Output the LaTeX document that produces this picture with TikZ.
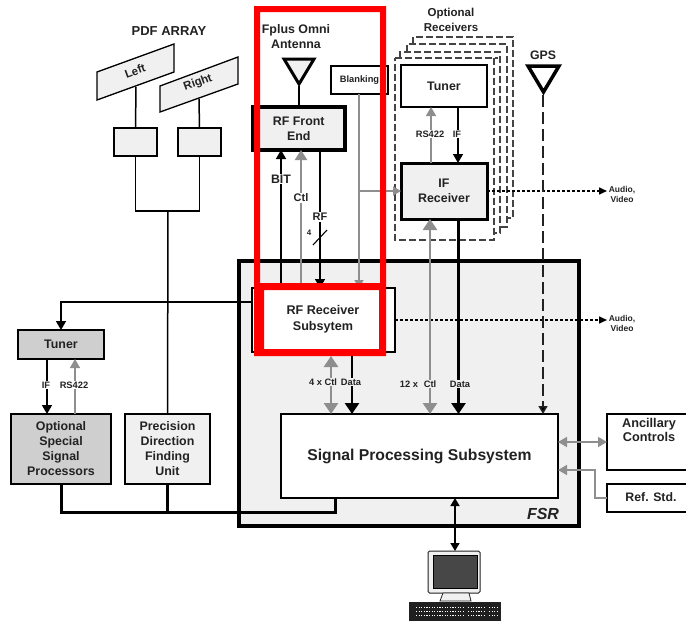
\documentclass[tikz,border=0pt]{standalone}
\usepackage{fontspec}
\setmainfont{Liberation Sans}
\usetikzlibrary{arrows.meta,calc}
\definecolor{ink}{HTML}{222222}
\definecolor{pale}{HTML}{F0F0F0}
\definecolor{mid}{HTML}{CFCFCF}
\definecolor{gry}{HTML}{8E8E8E}
\definecolor{redframe}{HTML}{FF0000}
\newcommand{\pbox}[7][]{%
  \pgfmathsetmacro{\pbw}{#5-#3}\pgfmathsetmacro{\pbh}{#6-#4}%
  \pgfmathsetmacro{\pbx}{(#3+#5)/2}\pgfmathsetmacro{\pby}{(#4+#6)/2}%
  \node[boxbase,#1,minimum width=\pbw pt,minimum height=\pbh pt] (#2) at (\pbx,\pby) {#7};}
\tikzset{
  boxbase/.style={draw=black,line width=1.5pt,inner sep=0pt,outer sep=0pt,align=center,text=ink,font=\fontsize{12.4}{15}\bfseries\selectfont},
  lbl/.style={inner sep=1pt,text=ink,font=\fontsize{9.3}{11}\bfseries\selectfont,align=center},
  onwhite/.style={lbl,fill=white},
  ongrey/.style={lbl,fill=pale},
  title/.style={text=ink,inner sep=0pt,align=center,font=\fontsize{12.3}{14.5}\bfseries\selectfont},
  blk/.style={draw=black,line width=1.5pt},
  gryline/.style={draw=gry,line width=1.5pt},
  bigtip/.style={-{Triangle[length=9pt,width=10pt]}},
  greytip/.style={-{Triangle[length=9pt,width=10pt,fill=gry]}},
  fatgrey/.style={draw=gry,line width=2.7pt,{Triangle[length=11pt,width=14pt,fill=gry]}-{Triangle[length=11pt,width=14pt,fill=gry]}},
  fatblack/.style={draw=black,line width=2.7pt,-{Triangle[length=11pt,width=14pt]}},
  dashframe/.style={draw=ink!85,line width=1.2pt,dash pattern=on 7pt off 3pt},
  anten/.style={draw=black,line width=3pt,line join=miter},
  avstyle/.style={text=ink,inner sep=0pt,align=center,font=\fontsize{8.5}{10}\bfseries\selectfont},
  dots/.style={line width=1.5pt,dash pattern=on 3pt off 2pt,-{Triangle[length=8pt,width=7pt]}},
  keys/.style={white,line width=.9pt,dash pattern=on 1.2pt off 1.4pt},
}
\begin{document}
\begin{tikzpicture}[x=1pt,y=-1pt]
\useasboundingbox (0,0) rectangle (686,621);
\fill[white] (0,0) rectangle (686,621);
% FSR
\pbox[line width=4pt,fill=pale]{fsr}{239}{261}{579}{526}{}
\node[text=ink,inner sep=0pt,font=\fontsize{16}{18}\bfseries\itshape\selectfont] (fsrt) at (543,514) {FSR};
% PDF array
\node[title,font=\fontsize{13}{15}\bfseries\selectfont] (pdft) at (169,31) {PDF ARRAY};
\draw[blk,fill=pale,line width=1.3pt] (97,72) -- (174,44) -- (174,72) -- (97,100) -- cycle;
\draw[blk,fill=pale,line width=1.3pt] (160,86) -- (238,57) -- (238,84) -- (160,112) -- cycle;
\node[title,rotate=20,font=\fontsize{11.5}{13}\bfseries\selectfont] (lefta) at (135,71) {Left};
\node[title,rotate=20,font=\fontsize{11.5}{13}\bfseries\selectfont] (righta) at (198,83) {Right};
\pbox[fill=pale]{boxl}{114}{128}{157}{156}{}
\pbox[fill=pale]{boxr}{178}{128}{221}{156}{}
\coordinate (jn) at (168,211);
\draw[blk] (136,87) -- (boxl.north);
\draw[blk] (199,99) -- (boxr.north);
\draw[blk] (boxl.south) |- (jn) -| (boxr.south);
% left boxes
\pbox[fill=mid]{tunerl}{18}{330}{104}{359}{Tuner}
\pbox[fill=mid]{ossp}{11}{414}{111}{484}{Optional\\Special\\Signal\\Processors}
\pbox[fill=pale]{pdfu}{125}{414}{210}{484}{Precision\\Direction\\Finding\\Unit}
\draw[blk] (jn) -- (pdfu.north);
\draw[blk,bigtip] (47,0 |- tunerl.south) -- (47,0 |- ossp.north);
\draw[gryline,greytip] (75,0 |- ossp.north) -- (75,0 |- tunerl.south);
\node[onwhite] (ifl) at (46,385) {IF};
\node[onwhite] (rsl) at (74,385) {RS422};
% RF receiver, SPS
\pbox[line width=2pt,fill=white]{rfrx}{252}{288}{395}{352}{}
\pbox[line width=2.5pt,fill=white]{sps}{281}{414}{558}{498}{\fontsize{15.7}{18}\bfseries\selectfont Signal Processing Subsystem}
% thick bus
\coordinate (busa) at (61,512);
\coordinate (busb) at (335,512);
\draw[line width=3pt,black] (ossp.south) -- (busa) -- (busb) -- (335,0 |- sps.south);
\draw[line width=3pt,black] (pdfu.south) -- (pdfu.south |- busa);
% left feed to tuner
\draw[blk,bigtip] (rfrx.west |- 0,302) -| (tunerl.north);
% Front end + antenna
\pbox[line width=3.5pt,fill=pale]{rffe}{252.5}{107}{345}{150}{RF Front\\End}
\node[title,font=\fontsize{12.4}{15}\bfseries\selectfont] (fplus) at (296,36.5) {Fplus Omni\\Antenna};
\draw[anten,fill=pale] (284,59) -- (314,59) -- (299,84) -- cycle;
\coordinate (ant) at (299,86);
\draw[blk] (ant) -- (299,0 |- rffe.north);
% Blanking
\pbox[fill=white,font=\fontsize{9.3}{11}\bfseries\selectfont]{blank}{331}{66}{388}{94}{Blanking}
% Optional receivers dashed frames
\draw[dashframe] (413,44) -- (413,37) -- (513,37) -- (513,218) -- (507,218);
\draw[dashframe] (407,52) -- (407,44) -- (507,44) -- (507,227) -- (500,227);
\draw[dashframe] (400,58) -- (400,52) -- (500,52) -- (500,233) -- (494,233);
\draw[dashframe] (395,58) -- (498,58);
\draw[dashframe] (494,58) -- (494,240) -- (395,240) -- (395,58);
\node[title,font=\fontsize{11.5}{14.5}\bfseries\selectfont] (optr) at (451,20) {Optional\\Receivers};
\pbox[fill=white]{tuner}{401}{65}{487}{107}{Tuner}
\pbox[line width=3pt,fill=pale]{ifrx}{401}{163}{487}{219}{IF\\Receiver}
\draw[gryline,greytip] (431,0 |- ifrx.north) -- (431,0 |- tuner.south);
\draw[blk,bigtip] (458,0 |- tuner.south) -- (458,0 |- ifrx.north);
\node[onwhite] (rsr) at (430,134) {RS422};
\node[onwhite] (ifr) at (457,134) {IF};
% Front-end connections
\draw[blk,bigtip] (281,0 |- rfrx.north) -- (281,0 |- rffe.south);
\draw[draw=gry,line width=2.2pt,-{Triangle[length=10pt,width=12pt,fill=gry]}] (301,0 |- rfrx.north) -- (301,0 |- rffe.south);
\draw[blk,bigtip] (320,0 |- rffe.south) -- (320,0 |- rfrx.north);
\node[title,fill=white,inner sep=1pt] (bit) at (281,179) {BIT};
\node[onwhite,font=\fontsize{11}{13}\bfseries\selectfont] (ctl) at (301,198) {Ctl};
\node[onwhite,font=\fontsize{11}{13}\bfseries\selectfont] (rf) at (320,217) {RF};
\node[text=ink,inner sep=0pt,font=\fontsize{8}{9}\bfseries\selectfont] (four) at (309,233) {4};
\coordinate (sla) at (313,245);
\coordinate (slb) at (327,230);
\draw[blk,line width=1.1pt] (sla) -- (slb);
% Blanking lines
\draw[gryline,-{Triangle[length=8pt,width=9pt,fill=gry]}] (359,0 |- blank.south) -- (359,0 |- rfrx.north);
\draw[gryline,-{Triangle[length=8pt,width=9pt,fill=gry]}] (359,191) -- (ifrx.west |- 359,191);
% Dotted outputs
\coordinate (avu) at (607,191);
\coordinate (avl) at (607,320);
\draw[dots] (ifrx.east |- avu) -- (avu);
\draw[dots] (rfrx.east |- avl) -- (avl);
\node[avstyle] (avut) at (622,194) {Audio,\\Video};
\node[avstyle] (avlt) at (622,323) {Audio,\\Video};
% RF rx <-> SPS
\draw[fatgrey] (331,0 |- rfrx.south) ++(0,4) -- (331,0 |- sps.north);
\draw[fatblack] (352,0 |- rfrx.south) -- (352,0 |- sps.north);
\node[ongrey] (c4) at (323,382) {4 x Ctl};
\node[ongrey] (d4) at (351,382) {Data};
% IF rx <-> SPS
\draw[fatgrey] (430,0 |- ifrx.south) -- (430,0 |- sps.north);
\draw[fatblack] (458.5,0 |- ifrx.south) -- (458.5,0 |- sps.north);
\node[ongrey] (c12a) at (409,384) {12 x};
\node[ongrey] (c12b) at (430,384) {Ctl};
\node[ongrey] (d12) at (460,384) {Data};
% GPS
\node[title] (gps) at (543,55) {GPS};
\draw[anten,line width=3.5pt,fill=white] (528,66) -- (559,66) -- (543.5,92) -- cycle;
\coordinate (gpsa) at (543,95);
\draw[draw=ink,line width=1.5pt,dash pattern=on 12pt off 5pt,-{Triangle[length=8pt,width=9pt,fill=black]}] (gpsa) -- (543,0 |- sps.north);
% Right boxes
\pbox[fill=white,line width=1.7pt]{anc}{607}{414}{692}{470}{}
\node[text=ink,inner sep=0pt,align=center,font=\fontsize{12.7}{14.5}\bfseries\selectfont] (anct) at (649,430) {Ancillary\\Controls};
\pbox[fill=white,line width=1.7pt]{ref}{607}{484}{692}{512}{}
\node[title] (reft) at (651,497) {Ref. Std.};
\draw[gryline,{Triangle[length=9pt,width=10pt,fill=gry]}-{Triangle[length=9pt,width=10pt,fill=gry]}] (sps.east |- anc.west) -- (anc.west);
\coordinate (refk) at (595,470);
\draw[gryline,greytip] (ref.west) -| (refk) -- (sps.east |- refk);
% Computer
\node[draw=ink,fill=pale,line width=1pt,rounded corners=1.5pt,minimum width=52pt,minimum height=42pt,inner sep=0pt,outer sep=0pt] (mon) at (454,572) {};
\node[draw=black,fill=black!72,line width=.8pt,minimum width=44pt,minimum height=33pt,inner sep=0pt] (scr) at (455,571.5) {};
\draw[blk,{Triangle[length=8pt,width=9pt]}-{Triangle[length=8pt,width=9pt]}] (455,0 |- sps.south) -- (455,0 |- mon.north);
\draw[draw=ink,fill=pale,line width=.8pt] (440,601) -- (443,593) -- (469,593) -- (471,601) -- cycle;
\node[fill=black!88,draw=ink,minimum width=91pt,minimum height=19pt,inner sep=0pt,outer sep=0pt] (kbd) at (454.5,612) {};
\foreach \yy in {607,611,615}{\draw[keys] (416,\yy) -- (464,\yy);\draw[keys] (468,\yy) -- (486,\yy);\draw[keys] (489,\yy) -- (498,\yy);}
% Red highlight
\fill[redframe,even odd rule] (254,6) rectangle (386,356) (260,12) rectangle (380,283) (264,290) rectangle (379,349);
\node[text=ink,inner sep=0pt,align=center,font=\fontsize{12.6}{16}\bfseries\selectfont] (rfrxt) at (323,319) {RF Receiver\\Subsytem};
\end{tikzpicture}
\end{document}
